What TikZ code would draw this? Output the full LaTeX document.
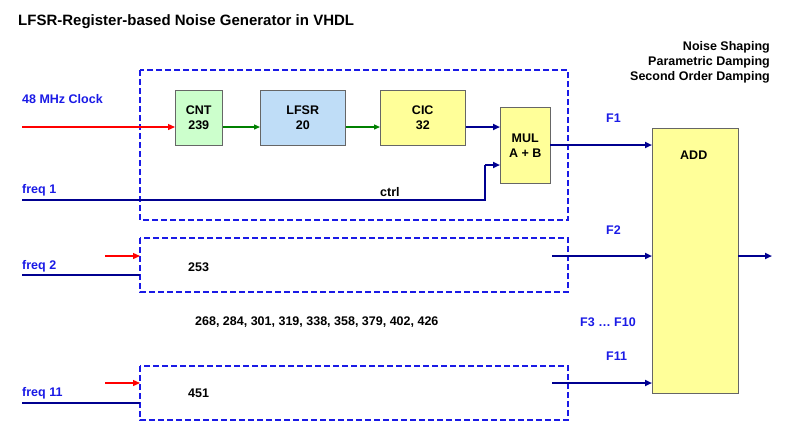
\documentclass[tikz,border=0pt]{standalone}
\usepackage{fontspec}
\setmainfont{Liberation Sans}
\usetikzlibrary{arrows.meta}
\definecolor{navy}{HTML}{000090}
\definecolor{lblue}{HTML}{1A1AE6}
\definecolor{fgreen}{HTML}{CCFFCC}
\definecolor{fblue}{HTML}{BFDDF7}
\definecolor{fyel}{HTML}{FFFF99}
\definecolor{dgreen}{HTML}{008000}
\begin{document}
\begin{tikzpicture}[x=1pt,y=-1pt,font=\bfseries\fontsize{12.5}{15}\selectfont,
 blk/.style={draw=black!60,line width=0.5pt,align=center,anchor=north west,inner sep=0},
 dbox/.style={draw=lblue,line width=1.6pt,dash pattern=on 6pt off 3pt},
 lab/.style={text=lblue,anchor=west,inner sep=0},
 txt/.style={anchor=west,inner sep=0},
 nav/.style={draw=navy,fill=navy,line width=1.8pt,-{Triangle[length=7pt,width=6pt]}},
 nl/.style={draw=navy,line width=1.3pt},
 redarr/.style={draw=red,fill=red,line width=1.3pt,-{Triangle[length=7pt,width=6pt]}},
 grn/.style={draw=dgreen,fill=dgreen,line width=1.3pt,-{Triangle[length=6pt,width=5pt]}}]
\useasboundingbox (0,0) rectangle (795,440);
\node[txt,font=\bfseries\fontsize{15}{18}\selectfont] (title) at (18,22) {LFSR-Register-based Noise Generator in VHDL};
\node[anchor=east,inner sep=0,align=right] (ns) at (770,62) {Noise Shaping\\Parametric Damping\\Second Order Damping};
\draw[dbox] (140,70) rectangle (568,220);
\draw[dbox] (140,238) rectangle (568,292);
\draw[dbox] (140,366) rectangle (568,420);
\node[blk,fill=fgreen,minimum width=47pt,minimum height=55pt] (cnt) at (175,90) {CNT\\239};
\node[blk,fill=fblue,minimum width=85pt,minimum height=55pt] (lfsr) at (260,90) {LFSR\\20};
\node[blk,fill=fyel,minimum width=85pt,minimum height=55pt] (cic) at (380,90) {CIC\\32};
\node[blk,fill=fyel,minimum width=50pt,minimum height=76pt] (mul) at (500,107) {MUL\\A + B};
\node[blk,fill=fyel,minimum width=86pt,minimum height=265pt] (add) at (652,128) {};
\node[txt] (addl) at (680,155) {ADD};
\node[lab] (clk) at (22,99) {48 MHz Clock};
\node[lab] (f1) at (22,190) {freq 1};
\node[lab] (f2) at (22,266) {freq 2};
\node[lab] (f11) at (22,393) {freq 11};
\node[txt] (ctrl) at (380,192) {ctrl};
\node[txt] (n253) at (188,267) {253};
\node[txt] (n451) at (188,393) {451};
\node[txt] (nl) at (195,322) {268, 284, 301, 319, 338, 358, 379, 402, 426};
\node[lab] (F1) at (606,118) {F1};
\node[lab] (F2) at (606,230) {F2};
\node[lab] (F3) at (580,322) {F3 \dots\ F10};
\node[lab] (F11) at (606,356) {F11};
\coordinate (c0) at (22,127);
\draw[redarr] (c0) -- (cnt.west |- c0);
\draw[grn] (cnt.east |- c0) -- (lfsr.west |- c0);
\draw[grn] (lfsr.east |- c0) -- (cic.west |- c0);
\draw[nav] (cic.east |- c0) -- (mul.west |- c0);
\coordinate (q0) at (22,200); \coordinate (q1) at (485,200); \coordinate (q2) at (485,165);
\draw[nl] (q0) -- (q1) -- (q2);
\draw[nav] (q2) -- (mul.west |- q2);
\coordinate (m) at (550,145);
\draw[nav] (m) -- (add.west |- m);
\coordinate (o) at (738,256); \coordinate (oe) at (772,256);
\draw[nav] (o) -- (oe);
\foreach \y/\q in {256/275, 383/403}{
 \coordinate (r0) at (105,\y); \coordinate (r1) at (140,\y);
 \draw[redarr] (r0) -- (r1);
 \coordinate (l0) at (22,\q); \coordinate (l1) at (140,\q);
 \draw[nl] (l0) -- (l1);
 \coordinate (s) at (552,\y);
 \draw[nav] (s) -- (add.west |- s);
}
\end{tikzpicture}
\end{document}
